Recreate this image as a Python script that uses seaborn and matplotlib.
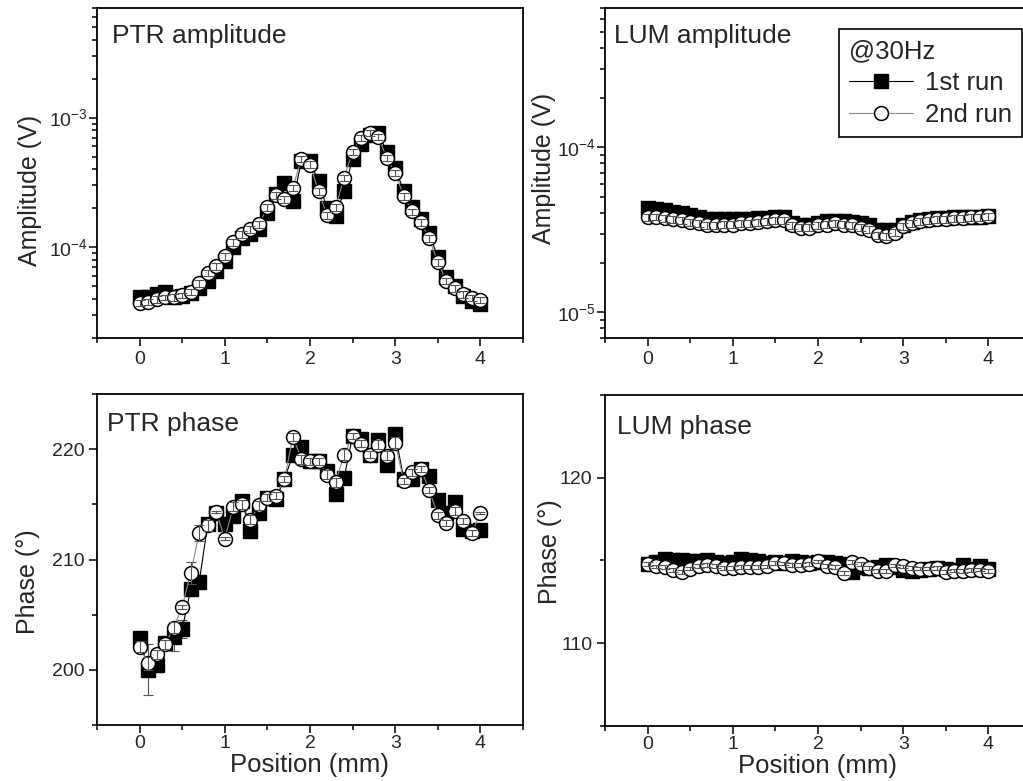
import numpy as np
import matplotlib
matplotlib.use("Agg")
import matplotlib.pyplot as plt
from matplotlib.ticker import MultipleLocator, LogLocator, NullFormatter, LogFormatterSciNotation
import seaborn as sns

sns.set_style("ticks")
plt.rcParams['font.family'] = ['Liberation Sans', 'DejaVu Sans']
plt.rcParams['mathtext.fontset'] = 'custom'
plt.rcParams['mathtext.rm'] = 'Liberation Sans'
plt.rcParams['mathtext.it'] = 'Liberation Sans:italic'
plt.rcParams['mathtext.bf'] = 'Liberation Sans:bold'

# scan positions (mm)
position = [0.0, 0.1, 0.2, 0.3, 0.4, 0.5, 0.6, 0.7, 0.8, 0.9,
            1.0, 1.1, 1.2, 1.3, 1.4, 1.5, 1.6, 1.7, 1.8, 1.9,
            2.0, 2.1, 2.2, 2.3, 2.4, 2.5, 2.6, 2.7, 2.8, 2.9,
            3.0, 3.1, 3.2, 3.3, 3.4, 3.5, 3.6, 3.7, 3.8, 3.9, 4.0]

# PTR amplitude (units of 1e-5 V)
ptr_amp_run1 = [4.12, 4.12, 4.35, 4.51, 4.12, 4.20, 4.43, 4.84, 5.48, 6.54,
                7.80, 10.0, 11.9, 12.6, 13.8, 18.3, 25.6, 31.1, 22.6, 46.7,
                45.9, 32.2, 20.0, 17.3, 27.0, 48.4, 63.1, 74.0, 76.7, 54.8,
                41.2, 27.0, 20.3, 16.4, 12.8, 8.38, 5.88, 5.01, 4.20, 3.84, 3.64]
ptr_amp_run2 = [3.71, 3.77, 3.98, 4.12, 4.12, 4.27, 4.51, 5.28, 6.31, 7.14,
                8.53, 10.9, 12.6, 13.8, 15.0, 20.3, 25.1, 23.4, 28.9, 48.4,
                43.5, 27.0, 17.6, 20.3, 34.5, 54.8, 70.2, 76.7, 71.4, 49.2,
                37.7, 24.7, 18.9, 15.6, 11.7, 7.67, 5.48, 4.84, 4.35, 4.05, 3.91]
ptr_amp_err2 = [0.20, 0.20, 0.25, 0.20, 0.25, 0.20, 0.25, 0.30, 0.35, 0.40,
                0.50, 0.60, 0.70, 0.80, 0.90, 1.10, 1.40, 1.30, 1.60, 2.60,
                2.40, 1.50, 1.00, 1.10, 1.90, 3.00, 3.80, 4.20, 3.90, 2.70,
                2.10, 1.40, 1.00, 0.90, 0.65, 0.45, 0.30, 0.28, 0.25, 0.22, 0.22]

# LUM amplitude (units of 1e-5 V)
lum_amp_run1 = [4.27, 4.21, 4.15, 4.04, 3.98, 3.87, 3.77, 3.66, 3.66, 3.66,
                3.66, 3.66, 3.66, 3.71, 3.71, 3.77, 3.77, 3.46, 3.41, 3.41,
                3.46, 3.56, 3.56, 3.56, 3.51, 3.46, 3.37, 3.18, 3.14, 3.18,
                3.37, 3.51, 3.61, 3.66, 3.71, 3.71, 3.77, 3.77, 3.77, 3.77, 3.82]
lum_amp_run2 = [3.77, 3.77, 3.71, 3.66, 3.61, 3.51, 3.46, 3.37, 3.37, 3.41,
                3.41, 3.46, 3.46, 3.51, 3.56, 3.61, 3.61, 3.37, 3.27, 3.27,
                3.37, 3.41, 3.46, 3.41, 3.37, 3.27, 3.18, 2.93, 2.89, 3.05,
                3.32, 3.46, 3.56, 3.61, 3.66, 3.66, 3.71, 3.71, 3.77, 3.77, 3.82]
lum_amp_err2 = [0.18, 0.16, 0.17, 0.18, 0.16, 0.17, 0.16, 0.15, 0.16, 0.17,
                0.16, 0.17, 0.16, 0.17, 0.18, 0.17, 0.18, 0.16, 0.15, 0.16,
                0.16, 0.17, 0.16, 0.17, 0.16, 0.15, 0.16, 0.14, 0.14, 0.15,
                0.16, 0.17, 0.17, 0.18, 0.17, 0.18, 0.18, 0.17, 0.18, 0.18, 0.19]

# PTR phase (deg)
ptr_ph_run1 = [202.9, 200.0, 200.4, 202.4, 203.0, 203.7, 207.3, 208.0, 213.2, 214.2,
               213.2, 213.9, 215.3, 212.6, 214.2, 215.6, 215.5, 217.3, 219.5, 220.2,
               218.9, 218.9, 218.0, 215.9, 217.4, 221.2, 220.9, 219.5, 220.8, 218.6,
               221.4, 217.3, 217.3, 218.2, 217.6, 215.4, 214.2, 215.2, 212.8, 212.6, 212.7]
ptr_ph_run2 = [202.1, 200.6, 201.4, 202.3, 203.8, 205.7, 208.8, 212.4, 213.1, 214.3,
               211.9, 214.8, 215.0, 213.6, 214.9, 215.6, 215.8, 217.3, 221.1, 219.1,
               218.9, 218.9, 217.7, 217.0, 219.5, 221.2, 220.5, 219.5, 220.4, 219.4,
               220.6, 217.1, 217.9, 218.2, 216.3, 214.0, 213.3, 214.4, 213.5, 212.4, 214.2]
ptr_ph_err1 = [0.5, 2.3, 0.6, 0.5, 1.3, 0.8, 0.6, 0.5, 0.4, 0.4,
               0.4, 0.4, 0.4, 0.4, 0.4, 0.3, 0.3, 0.3, 0.4, 0.4,
               0.3, 0.3, 0.4, 0.4, 0.5, 0.3, 0.3, 0.3, 0.4, 0.4,
               0.5, 0.3, 0.3, 0.3, 0.3, 0.3, 0.3, 0.4, 0.3, 0.3, 0.5]
ptr_ph_err2 = [0.5, 0.6, 0.4, 0.4, 0.5, 0.2, 1.0, 0.7, 0.5, 0.1,
               0.1, 0.4, 0.4, 0.4, 0.4, 0.3, 0.3, 0.3, 0.4, 0.4,
               0.3, 0.3, 0.4, 0.4, 0.5, 0.3, 0.3, 0.3, 0.4, 0.4,
               0.5, 0.3, 0.3, 0.3, 0.3, 0.3, 0.3, 0.4, 0.3, 0.3, 0.1]

# LUM phase (deg)
lum_ph_run1 = [114.80, 114.90, 115.10, 115.05, 115.00, 114.95, 114.95, 115.00, 114.90, 114.85,
               114.90, 115.10, 115.05, 114.95, 114.85, 114.90, 114.85, 114.95, 114.90, 114.85,
               114.90, 114.90, 114.85, 114.80, 114.30, 114.60, 114.55, 114.60, 114.70, 114.60,
               114.40, 114.35, 114.45, 114.50, 114.55, 114.50, 114.45, 114.70, 114.50, 114.65, 114.50]
lum_ph_run2 = [114.76, 114.65, 114.59, 114.45, 114.31, 114.51, 114.65, 114.72, 114.65, 114.55,
               114.55, 114.59, 114.61, 114.61, 114.65, 114.86, 114.82, 114.72, 114.72, 114.80,
               114.96, 114.65, 114.59, 114.25, 114.92, 114.80, 114.55, 114.35, 114.39, 114.70,
               114.65, 114.55, 114.51, 114.51, 114.55, 114.31, 114.39, 114.35, 114.45, 114.45, 114.39]
lum_ph_err2 = [0.12, 0.10, 0.11, 0.12, 0.10, 0.11, 0.12, 0.10, 0.11, 0.12,
               0.10, 0.11, 0.12, 0.11, 0.10, 0.12, 0.11, 0.10, 0.11, 0.12,
               0.10, 0.11, 0.12, 0.10, 0.11, 0.12, 0.10, 0.11, 0.12, 0.11,
               0.10, 0.12, 0.11, 0.10, 0.11, 0.12, 0.10, 0.11, 0.12, 0.11, 0.12]

W, H = 1023, 781
fig = plt.figure(figsize=(W / 100, H / 100), dpi=100)


def box(l, t, r, b):
    return [l / W, 1 - b / H, (r - l) / W, (b - t) / H]


ax_pa = fig.add_axes(box(97, 8, 523, 338))
ax_la = fig.add_axes(box(605, 8, 1031, 338))
ax_pp = fig.add_axes(box(97, 394, 523, 725))
ax_lp = fig.add_axes(box(605, 395, 1031, 726))

pos = np.array(position)


def draw(ax, y1, y2, e1=None, e2=None):
    sns.lineplot(x=pos, y=y1, ax=ax, color='black', lw=0.8, marker='s', markersize=10,
                 markerfacecolor='black', markeredgecolor='black', markeredgewidth=1,
                 label='1st run', legend=False, zorder=2)
    sns.lineplot(x=pos, y=y2, ax=ax, color='#8c8c8c', lw=0.8, marker='o', markersize=10,
                 markerfacecolor='white', markeredgecolor='black', markeredgewidth=1.1,
                 label='2nd run', legend=False, zorder=3)
    if e1 is not None:
        ax.errorbar(pos, y1, yerr=e1, fmt='none', ecolor='#555555', elinewidth=0.8,
                    capsize=3.5, capthick=0.8, zorder=1.5)
    if e2 is not None:
        ax.errorbar(pos, y2, yerr=e2, fmt='none', ecolor='#555555', elinewidth=0.8,
                    capsize=3.5, capthick=0.8, zorder=4)


draw(ax_pa, np.array(ptr_amp_run1) * 1e-5, np.array(ptr_amp_run2) * 1e-5,
     e2=np.array(ptr_amp_err2) * 1e-5)
draw(ax_la, np.array(lum_amp_run1) * 1e-5, np.array(lum_amp_run2) * 1e-5,
     e2=np.array(lum_amp_err2) * 1e-5)
draw(ax_pp, ptr_ph_run1, ptr_ph_run2, e1=ptr_ph_err1, e2=ptr_ph_err2)
draw(ax_lp, lum_ph_run1, lum_ph_run2, e2=lum_ph_err2)

for ax in (ax_pa, ax_la):
    ax.set_yscale('log')
    ax.yaxis.set_major_locator(LogLocator(base=10))
    ax.yaxis.set_minor_locator(LogLocator(base=10, subs=np.arange(2, 10)))
    ax.yaxis.set_major_formatter(LogFormatterSciNotation())
    ax.yaxis.set_minor_formatter(NullFormatter())
    ax.set_ylabel('Amplitude (V)', fontsize=18)
ax_pa.set_ylim(2e-5, 7e-3)
ax_la.set_ylim(7e-6, 7e-4)

for ax in (ax_pp, ax_lp):
    ax.yaxis.set_major_locator(MultipleLocator(10))
    ax.yaxis.set_minor_locator(MultipleLocator(5))
    ax.set_ylabel('Phase (°)', fontsize=18)
    ax.set_xlabel('Position (mm)', fontsize=18.5, labelpad=1)
ax_pp.set_ylim(195, 225)
ax_lp.set_ylim(105, 125)

for ax in (ax_pa, ax_la, ax_pp, ax_lp):
    ax.set_xlim(-0.5, 4.5)
    ax.xaxis.set_major_locator(MultipleLocator(1))
    ax.xaxis.set_minor_locator(MultipleLocator(0.5))
    ax.tick_params(which='both', direction='out', top=False, right=False,
                   labelsize=14, color='black', width=1.1)
    ax.tick_params(which='major', length=6, pad=3)
    ax.tick_params(which='minor', length=3.5)
    for s in ax.spines.values():
        s.set_visible(True)
        s.set_color('black')
        s.set_linewidth(1.3)
    if ax in (ax_pa, ax_la):
        ax.set_xlabel('')
        ax.tick_params(axis='y', which='major', pad=0.5)
    else:
        ax.tick_params(axis='x', which='major', pad=1)

ax_pa.yaxis.set_label_coords(-0.129, 0.448)
ax_la.yaxis.set_label_coords(-0.116, 0.515)
ax_pp.yaxis.set_label_coords(-0.134, 0.432)
ax_lp.yaxis.set_label_coords(-0.101, 0.526)

ax_pa.text(0.035, 0.95, 'PTR amplitude', transform=ax_pa.transAxes, fontsize=19, va='top', ha='left')
ax_la.text(0.021, 0.95, 'LUM amplitude', transform=ax_la.transAxes, fontsize=19, va='top', ha='left')
ax_pp.text(0.024, 0.945, 'PTR phase', transform=ax_pp.transAxes, fontsize=19, va='top', ha='left')
ax_lp.text(0.028, 0.94, 'LUM phase', transform=ax_lp.transAxes, fontsize=19, va='top', ha='left')

handles = [l for l in ax_la.get_lines() if l.get_label() in ('1st run', '2nd run')]
leg = ax_la.legend(handles=handles, labels=['1st run', '2nd run'], title='@30Hz',
                   fontsize=18.5, title_fontsize=18.5, loc='upper right',
                   bbox_to_anchor=(1022 / W, 1 - 29 / H), bbox_transform=fig.transFigure,
                   frameon=True, fancybox=False, framealpha=1, edgecolor='black',
                   borderpad=0.4, handlelength=2.5, handletextpad=0.45,
                   labelspacing=0.3, borderaxespad=0)
leg._legend_box.align = 'left'
leg.get_frame().set_linewidth(1.2)

fig.savefig('out.png', dpi=100)
